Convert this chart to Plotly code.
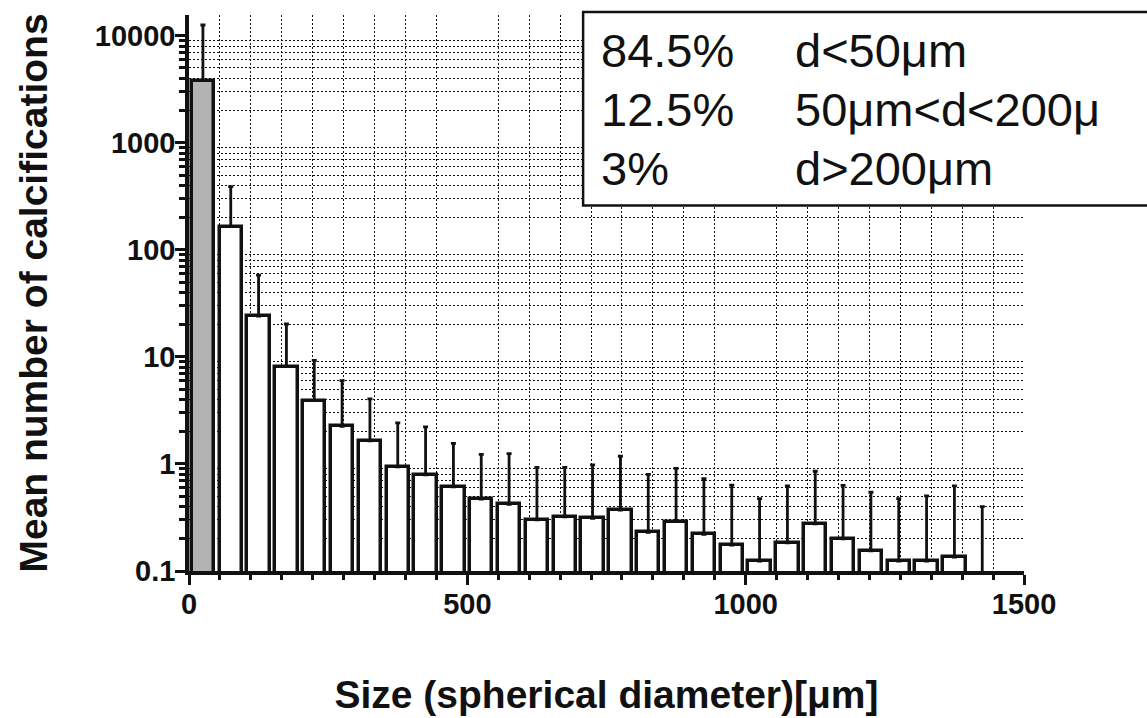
import plotly.graph_objects as go

# ---- data ----
bin_centers = [25, 75, 125, 175, 225, 275, 325, 375, 425, 475, 525, 575, 625, 675,
               725, 775, 825, 875, 925, 975, 1025, 1075, 1125, 1175, 1225, 1275,
               1325, 1375, 1425]
mean_counts = [3820, 165, 24, 8.1, 3.9, 2.25, 1.64, 0.94, 0.79, 0.61, 0.47, 0.42,
               0.30, 0.32, 0.31, 0.37, 0.23, 0.29, 0.22, 0.175, 0.124, 0.183, 0.275,
               0.20, 0.154, 0.124, 0.124, 0.135, 0.05]
sd_counts = [8780, 224, 34, 12.2, 5.4, 3.75, 2.42, 1.48, 1.43, 0.95, 0.76, 0.83,
             0.63, 0.61, 0.67, 0.81, 0.57, 0.62, 0.51, 0.46, 0.35, 0.44, 0.58,
             0.43, 0.39, 0.35, 0.38, 0.49, 0.35]
x_tick_vals = [0, 500, 1000, 1500]
x_tick_text = ["0", "500", "1000", "1500"]
y_tick_vals = [0.1, 1, 10, 100, 1000, 10000]
y_tick_text = ["0.1", "1", "10", "100", "1000", "10000"]
pct_labels = ["84.5%", "12.5%", "3%"]
range_labels = ["d<50μm", "50μm<d<200μ", "d>200μm"]

FONT = "Liberation Sans, Arial, Helvetica, sans-serif"
INK = "#111111"
bar_fill = ["#b3b3b3"] + ["#ffffff"] * (len(bin_centers) - 1)

fig = go.Figure()
fig.add_trace(go.Bar(
    x=bin_centers, y=mean_counts, width=40,
    marker=dict(color=bar_fill, line=dict(color=INK, width=3.5)),
    error_y=dict(type="data", symmetric=False, array=sd_counts,
                 arrayminus=[0] * len(sd_counts), color=INK,
                 thickness=2.8, width=2.5),
    showlegend=False,
))

# minor tick positions
x_minor = [k * 500 / 9 for k in range(1, 27) if k % 9 != 0]
y_minor = [m * 10 ** e for e in range(-1, 5) for m in range(2, 10)]

grid_style = dict(gridcolor="#111111", griddash="2px,2px", gridwidth=1)

fig.update_xaxes(
    range=[0, 1500], tickmode="array", tickvals=x_tick_vals, ticktext=x_tick_text,
    showgrid=False, zeroline=False,
    showline=True, linecolor=INK, linewidth=3.5,
    ticks="outside", ticklen=10, tickwidth=3, tickcolor=INK, ticklabelstandoff=-6,
    tickfont=dict(family=FONT, size=29, color=INK, weight="bold"),
    minor=dict(tickmode="array", tickvals=x_minor, ticks="outside", ticklen=5,
               tickwidth=2.5, tickcolor=INK, showgrid=True, **grid_style),
    title=dict(text="Size (spherical diameter)[μm]", standoff=63,
               font=dict(family=FONT, size=39, color=INK, weight="bold")),
)
fig.update_yaxes(
    type="log", range=[-1, 4.194], tickmode="array", tickvals=y_tick_vals,
    ticktext=y_tick_text, showgrid=False, zeroline=False,
    showline=True, linecolor=INK, linewidth=3.5,
    ticks="outside", ticklen=10, tickwidth=3, tickcolor=INK, ticklabelstandoff=-6,
    tickfont=dict(family=FONT, size=29, color=INK, weight="bold"),
    minor=dict(tickmode="array", tickvals=y_minor, ticks="outside", ticklen=6,
               tickwidth=2.5, tickcolor=INK, showgrid=True, **grid_style),
    title=dict(text="Mean number of calcifications", standoff=36,
               font=dict(family=FONT, size=39, color=INK, weight="bold")),
)

# percentage box
fig.add_shape(type="rect", xref="paper", yref="paper",
              x0=0.472, x1=1.25, y0=0.6574, y1=1.0054,
              line=dict(color=INK, width=2.5), fillcolor="white", layer="above")
row_y = [0.9356, 0.8297, 0.7243]
for yy, p, r in zip(row_y, pct_labels, range_labels):
    fig.add_annotation(xref="paper", yref="paper", x=0.4910, y=yy, text=p,
                       showarrow=False, xanchor="left", yanchor="middle",
                       font=dict(family=FONT, size=47, color=INK))
    fig.add_annotation(xref="paper", yref="paper", x=0.7230, y=yy, text=r,
                       showarrow=False, xanchor="left", yanchor="middle",
                       font=dict(family=FONT, size=47, color=INK))

fig.update_layout(
    width=1147, height=718,
    margin=dict(l=189, r=123, t=15, b=147, autoexpand=False),
    paper_bgcolor="white", plot_bgcolor="white",
    bargap=0, showlegend=False,
)
fig.write_html("out.html")
